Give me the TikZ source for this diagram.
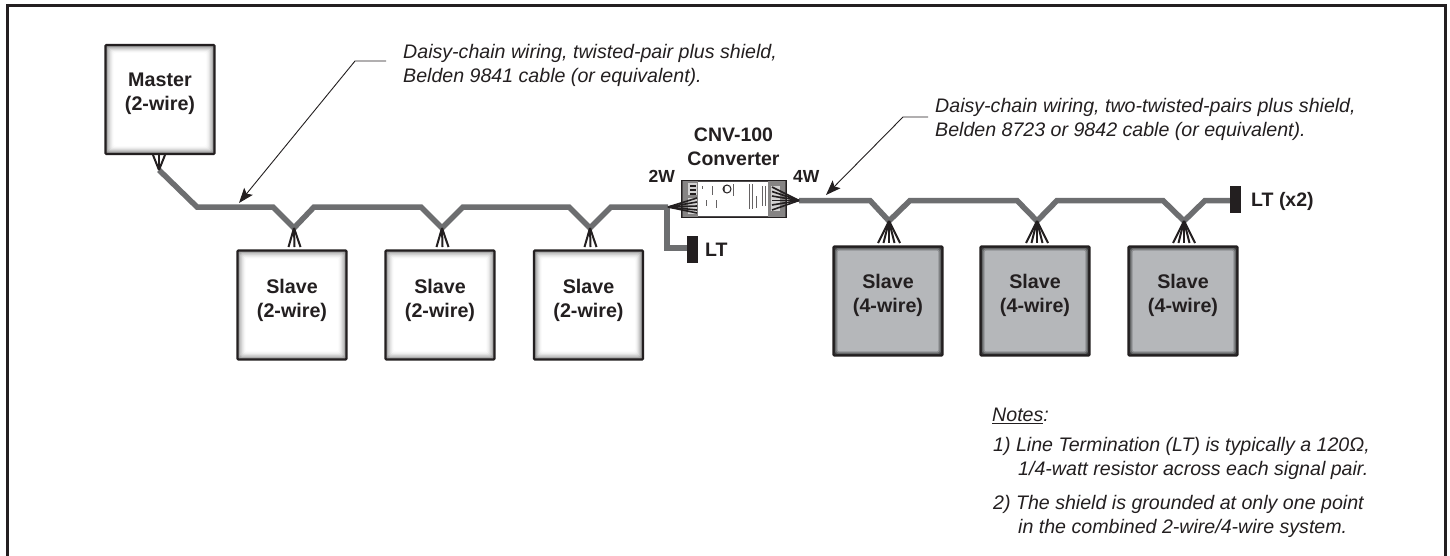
\documentclass[tikz,border=0pt]{standalone}
\usepackage{fontspec}
\setmainfont{Liberation Sans}
\usetikzlibrary{arrows.meta,calc}
\definecolor{ink}{HTML}{231F20}
\definecolor{cable}{HTML}{6D6E70}
\definecolor{fourfill}{HTML}{B5B7BA}
\tikzset{
  x=1pt,y=-1pt,
  frameline/.style={draw=ink,line width=3pt},
  unitbox/.style={draw=ink,line width=2.4pt,rounded corners=1pt,minimum width=109pt,minimum height=109pt,inner sep=0pt},
  unittext/.style={inner sep=0pt,align=center,font=\fontsize{19.7}{24}\selectfont\bfseries,text=ink},
  cablepath/.style={draw=cable,line width=5.5pt,line join=miter,line cap=butt},
  wire/.style={draw=ink,line width=2pt},
  leaderarrow/.style={draw=ink,line width=0.9pt,-{Stealth[length=15pt,width=11pt,inset=3pt]}},
  bar/.style={fill=ink,draw=none,minimum width=11pt,minimum height=27pt,inner sep=0pt},
  lab/.style={font=\fontsize{19.5}{24}\selectfont\bfseries,text=ink,inner sep=0pt,align=center},
  smalllab/.style={font=\fontsize{17.5}{20}\selectfont\bfseries,text=ink,inner sep=0pt},
  note/.style={font=\fontsize{19.6}{24}\selectfont\itshape,text=ink,inner sep=0pt,align=left,anchor=north west},
}
\begin{document}
\begin{tikzpicture}
\useasboundingbox (0,0) rectangle (1450,555);
\fill[white] (0,0) rectangle (1450,555);
\draw[frameline] (7.5,556) -- (7.5,5.5) -- (1445.5,5.5) -- (1445.5,556);

% box centres
\coordinate (cM) at (160,99.5);
\coordinate (cA) at (292,305);
\coordinate (cB) at (440,305);
\coordinate (cC) at (588.5,305);
\coordinate (cD) at (888,301);
\coordinate (cE) at (1035,301);
\coordinate (cF) at (1183,301);

% soft faces
\foreach \c in {cM,cA,cB,cC}{
  \foreach \i/\m in {0/15,1/35,2/55,3/70,4/82,5/91,6/97,7/100}{
    \fill[white!\m!gray,rounded corners=2pt] ($(\c)+(-54+\i*1.1,-54+\i*1.1)$) rectangle ($(\c)+(54-\i*1.1,54-\i*1.1)$);
  }
}
\foreach \c in {cD,cE,cF}{
  \foreach \i/\m in {0/30,1/55,2/80,3/100}{
    \fill[fourfill!\m!black,rounded corners=2pt] ($(\c)+(-54+\i*1.2,-54+\i*1.2)$) rectangle ($(\c)+(54-\i*1.2,54-\i*1.2)$);
  }
}

\node[unitbox] (master) at (cM) {};
\node[unitbox] (s1) at (cA) {};
\node[unitbox] (s2) at (cB) {};
\node[unitbox] (s3) at (cC) {};
\node[unitbox] (s4) at (cD) {};
\node[unitbox] (s5) at (cE) {};
\node[unitbox] (s6) at (cF) {};
\node[unittext] (tm) at (160,94) {Master\\(2-wire)};
\node[unittext] (t1) at (292,300) {Slave\\(2-wire)};
\node[unittext] (t2) at (440,300) {Slave\\(2-wire)};
\node[unittext] (t3) at (588.5,300) {Slave\\(2-wire)};
\node[unittext] (t4) at (888,295) {Slave\\(4-wire)};
\node[unittext] (t5) at (1035,295) {Slave\\(4-wire)};
\node[unittext] (t6) at (1183,295) {Slave\\(4-wire)};

% termination bars
\node[bar] (lt1) at (692.5,249.5) {};
\node[bar] (lt2) at (1235.5,199.5) {};

% converter
\node[draw=ink,fill=ink!80!white,line width=1pt,minimum width=105pt,minimum height=37pt,inner sep=0pt] (conv) at (734,199) {};
\fill[white] (698,182) rectangle (768,216);
\fill[ink!55!white] (683,181) rectangle (698,217);
\fill[ink!55!white] (768,181) rectangle (785,217);
\fill[ink!20!white] (688,183) rectangle (697,195);
\fill[ink!20!white] (688,198) rectangle (697,214);
\fill[ink!20!white] (771,186) rectangle (780,211);
\foreach \y in {185,189,193}{ \fill[ink] (690,\y) rectangle (696,\y+2); }
\foreach \x/\ya/\yb in {702/186/189,706/200/206,712/186/195,716/200/208,724/186/192,733/184/196,749/184/209,752/184/209,756/196/208,762/186/206,765/186/206}{
  \draw[ink!70!white,line width=1pt] (\x,\ya) -- (\x,\yb);
}
\draw[ink,line width=1pt] (727,189) circle (4pt);

% cables
\coordinate (mOut) at (159,170);
\coordinate (vA) at (294,228);
\coordinate (vB) at (442,228);
\coordinate (vC) at (590,228);
\coordinate (v2W) at (668,207);
\coordinate (v4W) at (799,200.5);
\coordinate (vD) at (889,221);
\coordinate (vE) at (1037,221);
\coordinate (vF) at (1184,221);
\draw[cablepath] (mOut) -- (197,207) -- (273,207) -- (vA) -- (314,207) -- (421,207) -- (vB) -- (463,207) -- (569,207) -- (vC) -- (611,207) -- (v2W);
\draw[cablepath] (667,207) -- (667,248) -- ($(lt1.west)+(0,-1.5)$);
\draw[cablepath] (v4W) -- (870,200.5) -- (vD) -- (910,200.5) -- (1017,200.5) -- (vE) -- (1057,200.5) -- (1163,200.5) -- (vF) -- (1205,200.5) -- ($(lt2.west)+(0,1)$);

% wire fans
\foreach \dx in {-6,0,6}{ \draw[wire] (mOut) -- ($(159,155)+(\dx,0)$); }
\foreach \x/\v in {294.5/vA,442.5/vB,590.5/vC}{
  \foreach \dx in {-6,0,6}{ \draw[wire] (\v) -- ($(\x,247)+(\dx,0)$); }
}
\foreach \x/\v in {889/vD,1037/vE,1184/vF}{
  \foreach \dx in {-11,-5.5,0,5.5,11}{ \draw[wire] (\v) -- ($(\x,243)+(\dx,0)$); }
}
\foreach \y in {198,202,206,210,213}{ \draw[wire,line width=1.6pt] (v2W) -- (697,\y); }
\foreach \y in {187,191.5,196,200.5,205,210}{ \draw[wire,line width=1.6pt] (v4W) -- (772,\y); }

% labels
\node[lab] (conlab) at (733.5,147) {CNV-100\\Converter};
\node[smalllab,anchor=east] (w2) at (675,176) {2W};
\node[smalllab,anchor=west] (w4) at (793,176) {4W};
\node[lab,anchor=west] (ltA) at (705,250) {LT};
\node[lab,anchor=west] (ltB) at (1251,201) {LT (x2)};

% leaders
\node[note] (n1) at (403,44) {Daisy-chain wiring, twisted-pair plus shield,\\Belden 9841 cable (or equivalent).};
\node[note] (n2) at (935,98) {Daisy-chain wiring, two-twisted-pairs plus shield,\\Belden 8723 or 9842 cable (or equivalent).};
\coordinate (l1a) at (386,61);
\coordinate (l1b) at (355,61);
\coordinate (l1c) at (239,203);
\coordinate (l2a) at (928,117);
\coordinate (l2b) at (903,117);
\coordinate (l2c) at (826,195);
\draw[leaderarrow] (l1a) -- (l1b) -- (l1c);
\draw[leaderarrow] (l2a) -- (l2b) -- (l2c);

% notes
\node[note] (nh) at (992,408) {\underline{Notes}:};
\node[note] (n3) at (993,437) {1) Line Termination (LT) is typically a 120Ω,\\\hspace*{25pt}1/4-watt resistor across each signal pair.};
\node[note] (n4) at (993,495) {2) The shield is grounded at only one point\\\hspace*{25pt}in the combined 2-wire/4-wire system.};
\end{tikzpicture}
\end{document}
